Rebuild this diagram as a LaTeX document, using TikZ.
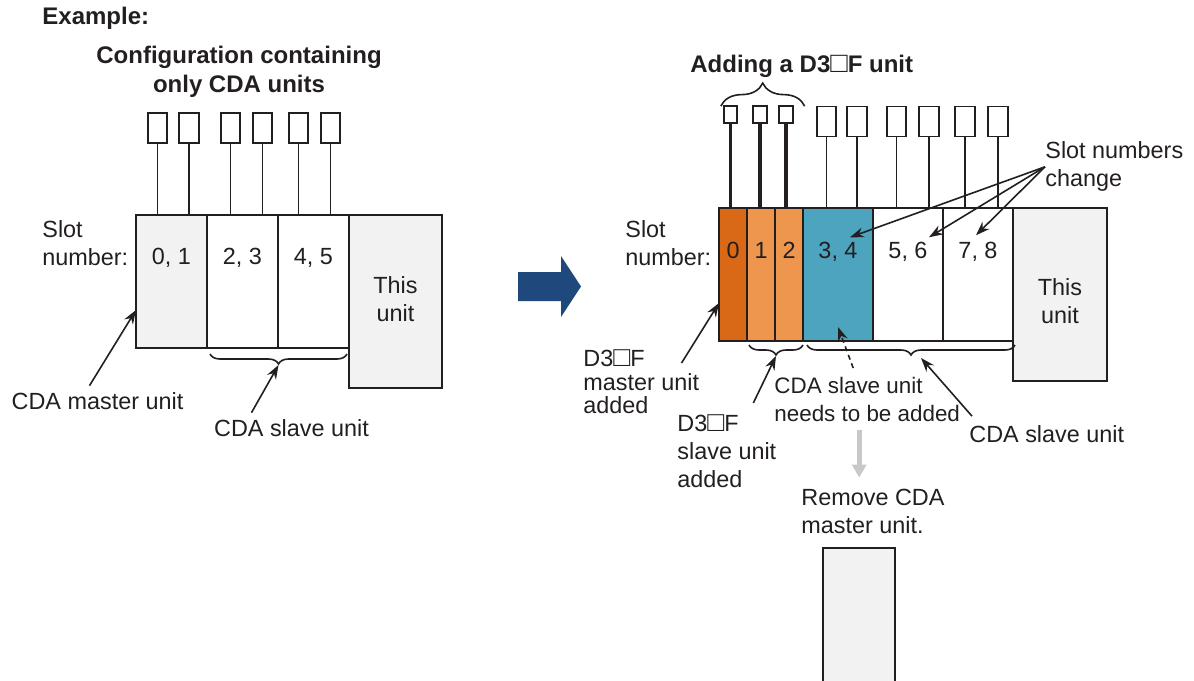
\documentclass[tikz,border=0pt]{standalone}
\usepackage{fontspec}
\setmainfont{Liberation Sans}
\usepackage{tikz}
\usetikzlibrary{decorations.pathreplacing}
\usetikzlibrary{arrows.meta,positioning}

\definecolor{inkblack}{RGB}{35,31,32}
\definecolor{unitgray}{RGB}{242,242,242}
\definecolor{d3dark}{RGB}{217,104,23}
\definecolor{d3light}{RGB}{238,150,78}
\definecolor{cdateal}{RGB}{76,164,190}
\definecolor{navyarrow}{RGB}{31,73,125}
\definecolor{paleline}{RGB}{200,200,200}

\newcommand{\sqmark}{\scalebox{1.2}{□}}

\begin{document}
\begin{tikzpicture}[x=0.5pt, y=-0.5pt,
    txt/.style={inner sep=0pt, text=inkblack, font=\fontsize{11.7}{14}\selectfont, align=left},
    hdr/.style={inner sep=0pt, text=inkblack, font=\fontsize{12}{14.5}\selectfont\bfseries, align=center},
    plug/.style={draw=inkblack, line width=0.9pt, fill=white, inner sep=0pt,
                 minimum width=9.75pt, minimum height=15pt},
    tinyplug/.style={plug, minimum width=6.75pt, minimum height=8.5pt},
    slotbox/.style={draw=inkblack, line width=1pt, inner sep=0pt, outer sep=0pt,
                    anchor=north west, minimum height=66.5pt},
    pointer/.style={draw=inkblack, line width=0.8pt, -{Stealth[length=7pt,width=5pt]}},
    brcdown/.style={draw=inkblack, line width=0.8pt, decorate, decoration={brace, amplitude=5pt, mirror}},
    brcup/.style={draw=inkblack, line width=0.8pt, decorate, decoration={brace, amplitude=11.5pt}},
  ]
  \useasboundingbox (0,0) rectangle (1194,680);

  % left: only CDA units
  \node[hdr, anchor=base west] (ex) at (42,25) {Example:};
  \node[hdr, anchor=north] (cfg) at (239,46) {Configuration containing\\only CDA units};

  \node[slotbox, fill=unitgray, minimum width=35.5pt] (m1) at (136,215) {};
  \node[slotbox, fill=white, minimum width=35.5pt, right=0pt of m1] (s1) {};
  \node[slotbox, fill=white, minimum width=35.5pt, right=0pt of s1] (s2) {};
  \node[slotbox, fill=unitgray, minimum width=46.5pt, minimum height=86.5pt] (th1) at (s2.north east) {};

  \foreach \px [count=\i] in {157.5,189,230.5,262.5,298.5,330.5} {
    \node[plug] (p\i) at (\px,128) {};
    \draw[inkblack, line width=0.9pt] (p\i.south) -- (p\i.south |- m1.north);
  }

  \node[txt, anchor=north west] (slotl) at (42,220.5) {Slot\\number:};
  \node[txt, anchor=base] (n01) at (171.5,264) {0, 1};
  \node[txt, anchor=base] (n23) at (242.5,264) {2, 3};
  \node[txt, anchor=base] (n45) at (313.5,264) {4, 5};
  \node[txt, anchor=north, align=center] (thl) at (395.5,276.5) {This\\unit};

  \draw[brcdown] ([xshift=1.5pt,yshift=-3pt]s1.south west) -- ([xshift=-1pt,yshift=-3pt]s2.south east);
  \coordinate (lbtip) at (278.5,365);

  \node[txt, anchor=base] (cdam) at (97.5,409) {CDA master unit};
  \node[txt, anchor=base] (cdas) at (291.5,436) {CDA slave unit};
  \draw[pointer] ([xshift=-4pt,yshift=3pt]cdam.north) -- ([yshift=19pt]m1.south west);
  \draw[pointer] ([xshift=-20pt,yshift=3pt]cdas.north) -- (lbtip);

  % big arrow
  \fill[navyarrow] (518,272) -- (561,272) -- (561,256) -- (581,286.5)
                   -- (561,317) -- (561,301) -- (518,301) -- cycle;

  % right: D3 unit added
  \node[hdr, anchor=base west] (add) at (690,72) {Adding a D3\sqmark F unit};

  \node[slotbox, fill=d3dark, minimum width=14pt] (d0) at (719,208) {};
  \node[slotbox, fill=d3light, minimum width=14pt, right=0pt of d0] (d1) {};
  \node[slotbox, fill=d3light, minimum width=14pt, right=0pt of d1] (d2) {};
  \node[slotbox, fill=cdateal, minimum width=35pt, right=0pt of d2] (c1) {};
  \node[slotbox, fill=white, minimum width=35pt, right=0pt of c1] (c2) {};
  \node[slotbox, fill=white, minimum width=35pt, right=0pt of c2] (c3) {};
  \node[slotbox, fill=unitgray, minimum width=47pt, minimum height=86.5pt] (th2) at (c3.north east) {};

  \foreach \px [count=\i] in {730.5,760,786} {
    \node[tinyplug] (q\i) at (\px,114.5) {};
    \draw[inkblack, line width=1.6pt] (q\i.south) -- (q\i.south |- d0.north);
  }
  \foreach \px [count=\i] in {826.5,857,896.5,929,965,998} {
    \node[plug] (r\i) at (\px,121.5) {};
    \draw[inkblack, line width=0.9pt] (r\i.south) -- (r\i.south |- c1.north);
  }
  \draw[brcup] ([xshift=-1pt,yshift=-0.5pt]q1.north west) -- ([xshift=5.5pt,yshift=-0.5pt]q3.north east);

  \node[txt, anchor=north west] (slotr) at (625,220.5) {Slot\\number:};
  \node[txt, anchor=base] (n0) at (733,258) {0};
  \node[txt, anchor=base] (n1) at (761,258) {1};
  \node[txt, anchor=base] (n2) at (789,258) {2};
  \node[txt, anchor=base] (n34) at (838,258) {3, 4};
  \node[txt, anchor=base] (n56) at (908,258) {5, 6};
  \node[txt, anchor=base] (n78) at (978,258) {7, 8};
  \node[txt, anchor=north, align=center] (thr) at (1060,278.5) {This\\unit};

  \node[txt, anchor=north west] (chg) at (1045,141.5) {Slot numbers\\change};
  \draw[pointer] (chg.west) -- ([xshift=6pt,yshift=2pt]n34.north);
  \draw[pointer] (chg.west) -- ([xshift=10.5pt,yshift=2pt]n56.north);
  \draw[pointer] (chg.west) -- ([xshift=-1pt,yshift=3pt]n78.north);

  \draw[brcdown] ([xshift=1pt,yshift=-2pt]d1.south west) -- ([yshift=-2pt]d2.south east);
  \draw[brcdown] ([xshift=2pt,yshift=-2pt]c1.south west) -- ([xshift=1pt,yshift=-2pt]c3.south east);
  \coordinate (dbtip) at (776,356);
  \coordinate (cbtip) at (921,358);

  \node[txt, anchor=north west, font=\fontsize{11.7}{11.8}\selectfont] (d3m) at (583,349.5) {D3\sqmark F\\master unit\\added};
  \node[txt, anchor=north west] (d3s) at (677,414.5) {D3\sqmark F\\slave unit\\added};
  \node[txt, anchor=north west, font=\fontsize{11.2}{14.3}\selectfont] (need) at (774,376.5) {CDA slave unit\\needs to be added};
  \node[txt, anchor=base west] (cdas2) at (969,442) {CDA slave unit};

  \draw[pointer] ([xshift=-9pt,yshift=-6.75pt]d3m.north east) -- ([yshift=19pt]d0.south west);
  \draw[pointer] ([xshift=13.25pt,yshift=5.75pt]d3s.north) -- (dbtip);
  \draw[pointer, dash pattern=on 2.5pt off 2pt] ([xshift=-7pt,yshift=4.25pt]need.north) -- ([yshift=7pt]c1.south);
  \draw[pointer] ([xshift=1.5pt,yshift=4.25pt]cdas2.north west) -- (cbtip);

  % what goes away
  \node[txt, anchor=north west] (rem) at (801,488.5) {Remove CDA\\master unit.};
  \draw[paleline, line width=2.6pt, -{Triangle[length=6.5pt,width=7pt]}]
    ([xshift=-4pt,yshift=-4pt]need.south) -- ([xshift=-4pt,yshift=5.5pt]need.south |- rem.north);
  \node[slotbox, fill=unitgray, minimum width=36pt, minimum height=80pt] (old) at (823,548) {};
\end{tikzpicture}
\end{document}
